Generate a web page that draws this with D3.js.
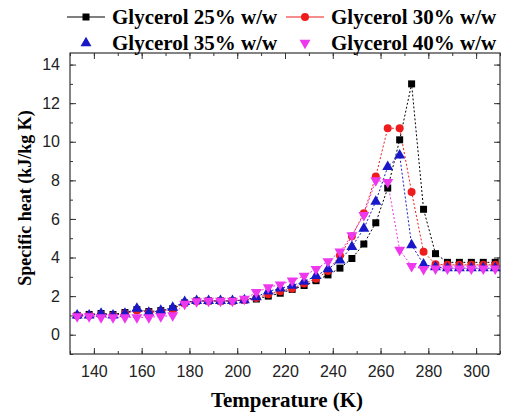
<!DOCTYPE html>
<html><head><meta charset="utf-8">
<script src="https://cdn.jsdelivr.net/npm/d3@7"></script>
<style>body{margin:0;background:#fff}svg{display:block}</style>
</head><body>
<svg id="c" width="508" height="414"></svg>
<script>
const temps = [133,138,143,148,153,158,163,168,173,178,183,188,193,198,203,208,213,218,223,228,233,238,243,248,253,258,263,268,273,278,283,288,293,298,303,308];
const g25 = [1.0,1.05,1.1,1.05,1.15,1.3,1.2,1.25,1.35,1.65,1.75,1.75,1.75,1.75,1.8,1.85,2.0,2.15,2.35,2.55,2.8,3.1,3.45,3.95,4.7,5.8,7.6,10.1,13.0,6.5,4.2,3.75,3.75,3.75,3.75,3.75];
const g30 = [1.0,1.0,1.05,1.0,1.1,1.25,1.15,1.2,1.3,1.65,1.75,1.75,1.75,1.75,1.8,1.9,2.1,2.25,2.4,2.65,2.9,3.3,4.1,5.1,6.3,8.2,10.7,10.7,7.4,4.3,3.65,3.62,3.62,3.62,3.62,3.62];
const g35 = [1.0,1.0,1.1,1.0,1.1,1.35,1.15,1.25,1.4,1.7,1.75,1.75,1.75,1.75,1.8,1.95,2.25,2.4,2.55,2.75,3.05,3.4,3.85,4.55,5.5,6.9,8.7,9.3,4.65,3.65,3.5,3.45,3.45,3.45,3.45,3.45];
const g40 = [0.95,0.95,0.9,0.9,0.9,0.9,0.9,0.95,1.0,1.6,1.72,1.75,1.75,1.75,1.85,2.2,2.45,2.6,2.8,3.05,3.4,3.8,4.3,5.15,6.2,8.0,7.9,4.4,3.55,3.4,3.42,3.42,3.42,3.42,3.42,3.42];
const seriesNames = ["Glycerol 25% w/w","Glycerol 30% w/w","Glycerol 35% w/w","Glycerol 40% w/w"];
const xTicks = [140,160,180,200,220,240,260,280,300];
const yTicks = [0,2,4,6,8,10,12,14];

const colors = ["#000000","#ee1c1c","#1818c8","#ee38ee"];
const symbols = [d3.symbolSquare, d3.symbolCircle, d3.symbolTriangle, "down"];
const allSeries = [g25,g30,g35,g40];
const sizes=[49,50,52,52];

const svg = d3.select("#c");
const L=70,R=500,T=53,B=354;
const x = d3.scaleLinear().domain([130,310]).range([L,R]);
const y = d3.scaleLinear().domain([-1,14.6]).range([B,T]);

function symFor(i){ return symbols[i]==="down" ? d3.symbolTriangle : symbols[i]; }
function rotFor(i){ return symbols[i]==="down" ? " rotate(180)" : ""; }

// lines
allSeries.forEach((vals,i)=>{
  const data = temps.map((t,k)=>({t, v:vals[k]}));
  svg.append("path").datum(data)
    .attr("fill","none").attr("stroke",colors[i]).attr("stroke-width",1)
    .attr("stroke-dasharray","2,2")
    .attr("d", d3.line().x(d=>x(d.t)).y(d=>y(d.v)));
});
// markers
allSeries.forEach((vals,i)=>{
  const data = temps.map((t,k)=>({t, v:vals[k]}));
  svg.append("g").selectAll("path").data(data).join("path")
    .attr("d", d3.symbol(symFor(i), sizes[i])())
    .attr("fill", colors[i])
    .attr("transform", d=>`translate(${x(d.t)},${y(d.v)})` + rotFor(i));
});

// axes with inward ticks
const ax = svg.append("g").attr("font-family","'Liberation Sans', Arial, sans-serif").attr("font-size",16);
const minorX = d3.range(130,311,10);
const minorY = d3.range(-1,14.6,1);
function addAxis(gen, tr, vals, size, labels, pad){
  ax.append("g").attr("transform",tr).call(g=>{
    g.call(gen.tickValues(vals).tickSize(size).tickPadding(pad||3).tickFormat(labels ? d3.format("d") : ""));
    g.select(".domain").remove();
    g.selectAll("line").attr("stroke","#333");
    g.selectAll("text").attr("fill","#222").attr("font-size",16);
  });
}
addAxis(d3.axisBottom(x), `translate(0,${B})`, minorX, -3, false);
addAxis(d3.axisBottom(x), `translate(0,${B})`, xTicks, -6, true, 12);
addAxis(d3.axisTop(x), `translate(0,${T})`, minorX, -3, false);
addAxis(d3.axisTop(x), `translate(0,${T})`, xTicks, -6, false);
addAxis(d3.axisLeft(y), `translate(${L},0)`, minorY, -3, false);
addAxis(d3.axisLeft(y), `translate(${L},0)`, yTicks, -6, true, 10);
addAxis(d3.axisRight(y), `translate(${R},0)`, minorY, -3, false);
addAxis(d3.axisRight(y), `translate(${R},0)`, yTicks, -6, false);

// frame
svg.append("rect").attr("x",L).attr("y",T).attr("width",R-L).attr("height",B-T)
  .attr("fill","none").attr("stroke","#333").attr("stroke-width",1.2);

// axis titles
const serif = "'Liberation Serif','Times New Roman',serif";
svg.append("text").attr("x",287).attr("y",407).attr("text-anchor","middle")
  .attr("font-family",serif).attr("font-weight","bold").attr("font-size",21)
  .text("Temperature (K)");
svg.append("text").attr("transform","translate(31,198) rotate(-90)").attr("text-anchor","middle")
  .attr("font-family",serif).attr("font-weight","bold").attr("font-size",18)
  .text("Specific heat (kJ/kg K)");

// legend
const legPos = [[86,17],[305,17],[86,43],[305,43]];
const lg = svg.append("g");
seriesNames.forEach((name,i)=>{
  const [cx,cy]=legPos[i];
  if(i<2){
    lg.append("line").attr("x1",cx-19).attr("x2",cx+19).attr("y1",cy).attr("y2",cy)
      .attr("stroke",colors[i]).attr("stroke-width",1.2);
  }
  lg.append("path").attr("d", d3.symbol(symFor(i), sizes[i])()).attr("fill",colors[i])
    .attr("transform",`translate(${cx},${cy})`+rotFor(i));
  lg.append("text").attr("x",cx+26).attr("y",cy+7)
    .attr("font-family",serif).attr("font-weight","bold").attr("font-size",21)
    .text(name);
});
</script>
</body></html>
